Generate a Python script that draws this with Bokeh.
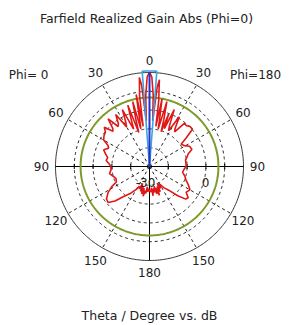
import numpy as np
from bokeh.plotting import figure
from bokeh.models import Range1d
from bokeh.core.properties import value
from bokeh.embed import file_html
from bokeh.resources import INLINE

# ---------------- data (dB) ----------------
# Phi = 0 half (drawn on the left), theta in degrees
theta_phi0 = [0, 1.5, 3, 4, 5.5, 6.5, 8, 9, 10.5, 12, 13, 14.5, 16, 17.5, 19.5, 21.5, 23,
              25.5, 28, 30, 33, 36, 38, 41, 44, 46, 49, 52, 56, 60, 63, 66, 70, 74, 78,
              82, 86, 90, 95, 100, 105, 110, 115, 118, 122, 127, 131, 135, 140, 145,
              150, 153, 156, 158, 160, 162, 164, 166, 168, 170, 172, 174, 176, 178, 180]
gain_phi0 = [30.4, 26.4, 11.8, -8.5, 19.9, 26.4, 11.8, -12.6, 13.4, -8.5, -14.2, 8.5, -4.5,
             -16.6, 6.9, -6.1, -12.6, 5.3, -4.5, -8.5, 4.5, -2.8, -4.5, 5.3, -2.8, -4.5,
             2.8, -0.4, -1.2, -2.8, -7.7, -9.3, -6.1, -8.5, -10.9, -10.1, -12.6, -14.2,
             -14.2, -12.6, -15.0, -16.6, -15.8, -10.9, -6.1, -2.0, -1.2, -6.1, -14.2,
             -19.0, -23.9, -27.2, -25.5, -30.4, -23.9, -28.8, -22.3, -27.2, -20.7, -25.5,
             -23.1, -28.8, -24.7, -27.2, -25.5]

# Phi = 180 half (drawn on the right)
theta_phi180 = [0, 1.5, 3, 4, 5.5, 6.5, 8, 9, 10.5, 12, 13, 15, 17, 18.5, 20, 21.5, 23.5,
                26, 28, 31, 34, 36, 39, 42, 45, 49, 52, 55, 59, 63, 68, 72, 76, 80, 85,
                90, 95, 100, 105, 110, 115, 120, 125, 129, 132, 136, 141, 146, 150, 153,
                155, 157, 159, 161, 163, 165, 167, 169, 171, 173, 175, 177, 180]
gain_phi180 = [30.4, 26.4, 11.8, -8.5, 18.3, 24.7, 7.7, -12.6, 10.1, -6.1, -14.2, 8.5,
               -6.1, -15.8, -0.4, -12.6, 4.5, -8.5, -12.6, 1.2, -8.5, -10.9, -0.4, -1.2,
               0.4, 0.4, -7.7, -14.2, -12.6, -9.3, -8.5, -12.6, -14.2, -15.8, -15.8,
               -15.8, -17.4, -18.2, -15.8, -14.2, -10.9, -7.7, -9.3, -5.3, -6.1, -12.6,
               -20.7, -24.7, -28.8, -25.5, -30.4, -23.1, -28.0, -20.7, -27.2, -22.3,
               -28.8, -23.9, -27.2, -21.5, -28.0, -24.7, -25.5]

ring_db = [-30, -15, 0, 15]          # dashed rings
r_min_db, r_max_db = -45, 30         # centre / outer circle
side_lobe_db = 10                    # green circle
main_dir_deg = 0                     # main lobe direction
width_3db_deg = 8.8                  # angular width markers (total)
angle_labels = ["0", "30", "60", "90", "120", "150", "180"]
angle_vals = [0, 30, 60, 90, 120, 150, 180]

R = 94.0
CX, CY = 149, 166   # polar centre in page pixels


def rad(db):
    return (np.asarray(db, dtype=float) - r_min_db) / (r_max_db - r_min_db) * R


def xy(theta_deg, r, side):
    t = np.radians(np.asarray(theta_deg, dtype=float))
    return side * r * np.sin(t), r * np.cos(t)


p = figure(width=289, height=325, output_backend="svg", toolbar_location=None,
           x_range=Range1d(0 - CX, 289 - CX), y_range=Range1d(CY - 325, CY - 0),
           min_border=0, outline_line_color=None, background_fill_color="white",
           border_fill_color="white")
p.axis.visible = False
p.grid.visible = False

full = np.linspace(0, 360, 361)
fx, fy = xy(full, np.ones_like(full), 1)

# dashed rings
for db in ring_db:
    rr = rad(db)
    p.line(fx * rr, fy * rr, line_color="#222222", line_width=1, line_dash="3 3")
# dashed spokes
for a in [30, 60, 120, 150, 210, 240, 300, 330]:
    sx, sy = xy([a, a], np.array([0, R]), 1)
    p.line(sx, sy, line_color="#222222", line_width=1, line_dash="3 3")
# outer circle
p.line(fx * R, fy * R, line_color="#333333", line_width=1)
# solid axes
p.line([-R, R], [0, 0], line_color="black", line_width=1)
p.line([0, 0], [0, -R], line_color="black", line_width=1)
# ticks on horizontal axis
for db in ring_db:
    rr = float(rad(db))
    for s in (-1, 1):
        p.line([s * rr, s * rr], [-2.5, 2.5], line_color="black", line_width=1)

# side lobe level circle
rs = float(rad(side_lobe_db))
p.line(fx * rs, fy * rs, line_color="#7f9a2c", line_width=2)

# gain curve: left half (phi=0) from 180 to 0, then right half (phi=180) 0 to 180
lx, ly = xy(theta_phi0[::-1], rad(gain_phi0[::-1]), -1)
rx, ry = xy(theta_phi180, rad(gain_phi180), 1)
p.line(np.concatenate([lx, rx]), np.concatenate([ly, ry]),
       line_color="#e01818", line_width=1.6)

# main lobe markers
h = width_3db_deg / 2
arc_t = np.linspace(main_dir_deg - h, main_dir_deg + h, 9)
ax_, ay_ = xy(arc_t, np.full(arc_t.shape, R + 1.5), 1)
bx = np.concatenate([[0], ax_, [0]])
by = np.concatenate([[0], ay_, [0]])
p.line(bx, by, line_color="#3aa4e6", line_width=1.6)
mx, my = xy([main_dir_deg, main_dir_deg], np.array([0, R]), 1)
p.line(mx, my, line_color="#2233cc", line_width=2)

font = value("DejaVu Sans")
tc = "#222222"


def put(x, y, t, size="12px"):
    p.text(x=[x - CX], y=[CY - y], text=[t], text_font=font,
           text_font_size=size, text_color=tc, text_align="center",
           text_baseline="middle")


put(146, 18, "Farfield Realized Gain Abs (Phi=0)", "12.5px")
put(149, 315, "Theta / Degree vs. dB", "12.5px")
put(30, 74, "Phi=  0")
put(255, 74, "Phi=180")

for lbl, a in zip(angle_labels, angle_vals):
    rr = 108
    if a in (0, 180):
        x, y = xy([a], np.array([106]), 1)
        put(CX + x[0], CY - y[0], lbl)
    else:
        for s in (-1, 1):
            x, y = xy([a], np.array([rr]), s)
            put(CX + x[0], CY - y[0], lbl)

# ring value labels
put(145, 182, str(ring_db[0]))
put(205, 182, str(ring_db[2]))

html = file_html(p, INLINE)
open("out.html", "w").write(html)
